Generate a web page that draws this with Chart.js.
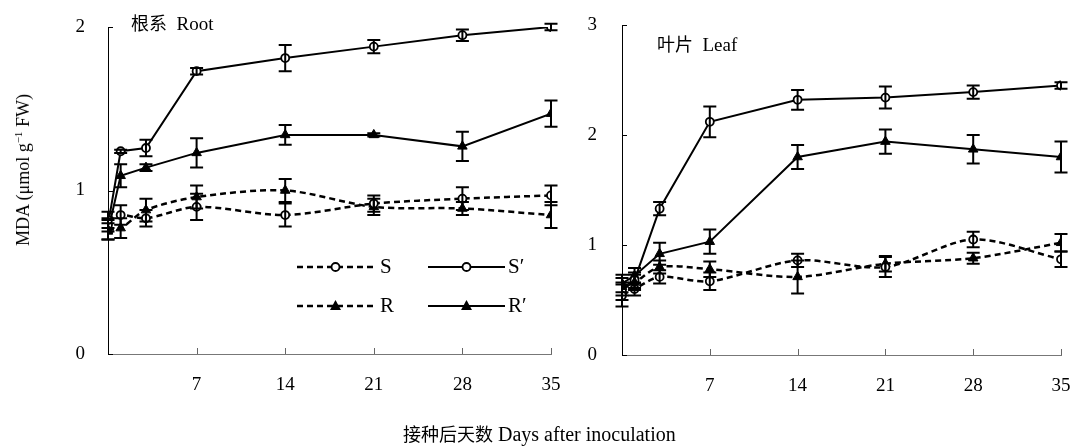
<!DOCTYPE html>
<html>
<head>
<meta charset="utf-8">
<script src="https://cdn.jsdelivr.net/npm/chart.js@4"></script>
<style>
  body { margin: 0; background: #fff; }
  #wrap { position: relative; width: 1075px; height: 448px; overflow: hidden; font-family: "Liberation Serif", "Noto Sans CJK SC", serif; }
  canvas { position: absolute; top: 0; }
  .lbl { position: absolute; white-space: nowrap; color: #000; }
</style>
</head>
<body>
<div id="wrap">
  <canvas id="grafico_root" width="565" height="448" style="left:0"></canvas>
  <canvas id="grafico_leaf" width="510" height="448" style="left:565px"></canvas>
  <div class="lbl" style="left:131px; top:9px; font-size:19px;"><span style="font-family:'Noto Sans CJK SC'; font-size:18px">根系</span>&nbsp; Root</div>
  <div class="lbl" style="left:657px; top:30px; font-size:19px;"><span style="font-family:'Noto Sans CJK SC'; font-size:18px">叶片</span>&nbsp; Leaf</div>
  <div class="lbl" style="left:403px; top:420px; font-size:20px;"><span style="font-family:'Noto Sans CJK SC'; font-size:18px">接种后天数</span> Days after inoculation</div>
  <div class="lbl" style="left:23px; top:170px; font-size:18px; transform: translate(-50%,-50%) rotate(-90deg);">MDA (μmol g<sup style="font-size:11px">−1</sup> FW)</div>
</div>
<script>
// days after inoculation
const days = [0, 1, 3, 7, 14, 21, 28, 35];

// root (根系)
const rootS = [0.82, 0.85, 0.83, 0.90, 0.85, 0.92, 0.95, 0.97];
const rootSErr = [0.05, 0.06, 0.05, 0.08, 0.07, 0.05, 0.07, 0.06];
const rootR = [0.76, 0.77, 0.88, 0.96, 1.00, 0.90, 0.89, 0.85];
const rootRErr = [0.06, 0.06, 0.07, 0.07, 0.07, 0.05, 0.04, 0.08];
const rootSp = [0.79, 1.24, 1.26, 1.73, 1.81, 1.88, 1.95, 2.00];
const rootSpErr = [0.04, 0.01, 0.05, 0.02, 0.08, 0.04, 0.035, 0.02];
const rootRp = [0.75, 1.09, 1.14, 1.23, 1.34, 1.34, 1.27, 1.47];
const rootRpErr = [0.05, 0.07, 0.02, 0.09, 0.06, 0.01, 0.09, 0.08];

// leaf (叶片)
const leafS = [0.54, 0.60, 0.71, 0.67, 0.86, 0.80, 1.05, 0.87];
const leafSErr = [0.10, 0.06, 0.06, 0.08, 0.06, 0.09, 0.07, 0.07];
const leafR = [0.62, 0.66, 0.80, 0.78, 0.71, 0.83, 0.88, 1.02];
const leafRErr = [0.08, 0.07, 0.06, 0.07, 0.15, 0.07, 0.05, 0.08];
const leafSp = [0.58, 0.68, 1.33, 2.12, 2.32, 2.34, 2.39, 2.45];
const leafSpErr = [0.08, 0.07, 0.06, 0.14, 0.09, 0.10, 0.06, 0.03];
const leafRp = [0.65, 0.72, 0.92, 1.03, 1.80, 1.94, 1.87, 1.80];
const leafRpErr = [0.08, 0.07, 0.10, 0.11, 0.11, 0.11, 0.13, 0.14];

const xTicks = [7, 14, 21, 28, 35];
const legendNames = ['S', "S\u2032", 'R', "R\u2032"];

const pts = (vals) => vals.map((v, i) => ({ x: days[i], y: v }));

function serie(label, vals, err, dashed, tri) {
  return {
    label: label,
    data: pts(vals),
    err: err,
    borderColor: '#000',
    borderWidth: dashed ? 2.5 : 2,
    borderDash: dashed ? [6, 4] : [],
    tension: dashed ? 0.3 : 0,
    pointStyle: tri ? 'triangle' : 'circle',
    pointRadius: tri ? 5.5 : 4,
    pointBackgroundColor: tri ? '#000' : '#fff',
    pointBorderColor: '#000',
    pointBorderWidth: tri ? 1 : 1.8
  };
}

// error bars with caps
const errorBars = {
  id: 'errorBars',
  afterDatasetsDraw(chart) {
    const ctx = chart.ctx;
    const x = chart.scales.x, y = chart.scales.y;
    ctx.save();
    ctx.strokeStyle = '#000';
    ctx.lineWidth = 2;
    ctx.setLineDash([]);
    chart.data.datasets.forEach(ds => {
      if (!ds.err) return;
      ds.data.forEach((p, i) => {
        const px = x.getPixelForValue(p.x);
        const t = y.getPixelForValue(p.y + ds.err[i]);
        const b = y.getPixelForValue(p.y - ds.err[i]);
        ctx.beginPath();
        ctx.moveTo(px, t); ctx.lineTo(px, b);
        ctx.moveTo(px - 6.5, t); ctx.lineTo(px + 6.5, t);
        ctx.moveTo(px - 6.5, b); ctx.lineTo(px + 6.5, b);
        ctx.stroke();
      });
    });
    ctx.restore();
  }
};

// inward tick marks
const innerTicks = {
  id: 'innerTicks',
  afterDraw(chart) {
    const ctx = chart.ctx;
    const x = chart.scales.x, y = chart.scales.y;
    const a = chart.chartArea;
    ctx.save();
    ctx.lineWidth = 1;
    ctx.strokeStyle = '#666';
    xTicks.forEach(v => {
      const px = Math.round(x.getPixelForValue(v)) + 0.5;
      ctx.beginPath(); ctx.moveTo(px, a.bottom); ctx.lineTo(px, a.bottom - 6); ctx.stroke();
    });
    ctx.strokeStyle = '#000';
    y.ticks.forEach(t => {
      const py = Math.round(y.getPixelForValue(t.value)) + 0.5;
      ctx.beginPath(); ctx.moveTo(a.left, py); ctx.lineTo(a.left + 5, py); ctx.stroke();
    });
    ctx.restore();
  }
};

// 2x2 legend inside the root panel
const legendBox = {
  id: 'legendBox',
  afterDraw(chart) {
    if (!chart.options.plugins.legendBox) return;
    const ctx = chart.ctx;
    const rows = [
      { x0: 297, x1: 374, y: 267, dashed: true, tri: false, tx: 380, name: legendNames[0] },
      { x0: 428, x1: 505, y: 267, dashed: false, tri: false, tx: 508, name: legendNames[1] },
      { x0: 297, x1: 374, y: 306, dashed: true, tri: true, tx: 380, name: legendNames[2] },
      { x0: 428, x1: 505, y: 306, dashed: false, tri: true, tx: 508, name: legendNames[3] }
    ];
    ctx.save();
    rows.forEach(r => {
      ctx.strokeStyle = '#000';
      ctx.lineWidth = r.dashed ? 2.5 : 2;
      ctx.setLineDash(r.dashed ? [6, 4] : []);
      ctx.beginPath(); ctx.moveTo(r.x0, r.y); ctx.lineTo(r.x1, r.y); ctx.stroke();
      ctx.setLineDash([]);
      const mx = (r.x0 + r.x1) / 2;
      if (r.tri) {
        ctx.fillStyle = '#000';
        ctx.beginPath(); ctx.moveTo(mx, r.y - 6); ctx.lineTo(mx + 5.5, r.y + 4); ctx.lineTo(mx - 5.5, r.y + 4); ctx.closePath(); ctx.fill();
      } else {
        ctx.fillStyle = '#fff'; ctx.lineWidth = 1.8;
        ctx.beginPath(); ctx.arc(mx, r.y, 4, 0, Math.PI * 2); ctx.fill(); ctx.stroke();
      }
      ctx.fillStyle = '#000';
      ctx.font = '21px "Liberation Serif"';
      ctx.textBaseline = 'middle';
      ctx.fillText(r.name, r.tx, r.y);
    });
    ctx.restore();
  }
};

function options(ymax, yWidth, xHeight, topPad, rightPad, yPad, showLegend) {
  return {
    responsive: false,
    animation: false,
    devicePixelRatio: 1,
    layout: { autoPadding: false, padding: { top: topPad, right: rightPad, left: 0, bottom: 0 } },
    plugins: { legend: { display: false }, tooltip: { enabled: false }, legendBox: showLegend },
    scales: {
      x: {
        type: 'linear', min: 0, max: 35,
        afterBuildTicks: s => { s.ticks = xTicks.map(v => ({ value: v })); },
        afterFit: s => { s.height = xHeight; s.paddingLeft = 0; s.paddingRight = 0; },
        grid: { display: false, drawTicks: false },
        border: { color: '#777', width: 1 },
        ticks: { color: '#000', padding: 20, font: { family: 'Liberation Serif', size: 19 } }
      },
      y: {
        min: 0, max: ymax,
        ticks: { stepSize: 1, color: '#000', padding: yPad, font: { family: 'Liberation Serif', size: 19 } },
        afterFit: s => { s.width = yWidth; s.paddingTop = 0; s.paddingBottom = 0; },
        grid: { display: false, drawTicks: false },
        border: { color: '#000', width: 1 }
      }
    }
  };
}

const ctx = document.getElementById('grafico_root');
new Chart(ctx, {
  type: 'line',
  data: {
    datasets: [
      serie('S', rootS, rootSErr, true, false),
      serie('R', rootR, rootRErr, true, true),
      serie("S\u2032", rootSp, rootSpErr, false, false),
      serie("R\u2032", rootRp, rootRpErr, false, true)
    ]
  },
  options: options(2, 108, 94, 27, 14, 23, true),
  plugins: [errorBars, innerTicks, legendBox]
});

const ctx2 = document.getElementById('grafico_leaf');
new Chart(ctx2, {
  type: 'line',
  data: {
    datasets: [
      serie('S', leafS, leafSErr, true, false),
      serie('R', leafR, leafRErr, true, true),
      serie("S\u2032", leafSp, leafSpErr, false, false),
      serie("R\u2032", leafRp, leafRpErr, false, true)
    ]
  },
  options: options(3, 57, 93, 25, 14, 25, false),
  plugins: [errorBars, innerTicks, legendBox]
});
</script>
</body>
</html>
